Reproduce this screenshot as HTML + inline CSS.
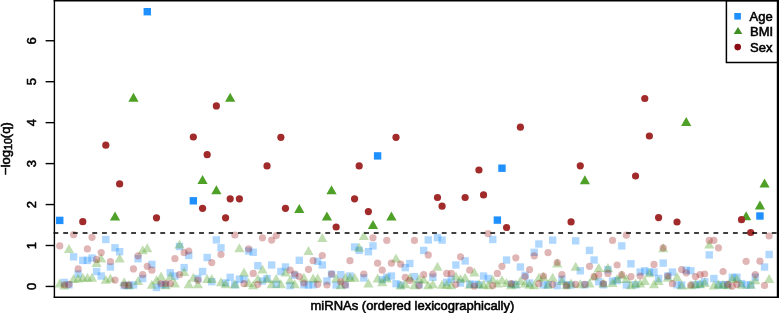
<!DOCTYPE html>
<html><head><meta charset="utf-8"><style>
html,body{margin:0;padding:0;background:#fff;}
svg{display:block;}
text{font-family:"Liberation Sans",Arial,sans-serif;font-size:13px;fill:#000;stroke:#000;stroke-width:0.55px;}
.fa{fill:#1e90ff;fill-opacity:.35}
.fb{fill:#4ea026;fill-opacity:.35}
.fs{fill:#a52a2a;fill-opacity:.35}
.a{fill:#1e90ff}
.b{fill:#4ea026}
.s{fill:#a12a2a}
</style></head><body>
<svg width="779" height="313" viewBox="0 0 779 313">
<g><rect class="fa" x="102.11" y="235.80" width="7.4" height="7.4"/><rect class="fa" x="111.33" y="244.10" width="7.4" height="7.4"/><rect class="fa" x="115.93" y="248.00" width="7.4" height="7.4"/><rect class="fa" x="69.87" y="253.10" width="7.4" height="7.4"/><rect class="fa" x="79.08" y="256.70" width="7.4" height="7.4"/><rect class="fa" x="83.69" y="256.70" width="7.4" height="7.4"/><rect class="fa" x="88.30" y="254.40" width="7.4" height="7.4"/><rect class="fa" x="134.36" y="255.00" width="7.4" height="7.4"/><rect class="fa" x="92.90" y="267.80" width="7.4" height="7.4"/><rect class="fa" x="97.51" y="272.30" width="7.4" height="7.4"/><rect class="fa" x="106.72" y="263.30" width="7.4" height="7.4"/><rect class="fa" x="74.48" y="270.30" width="7.4" height="7.4"/><rect class="fa" x="138.97" y="274.80" width="7.4" height="7.4"/><rect class="fa" x="129.75" y="281.30" width="7.4" height="7.4"/><rect class="fa" x="148.18" y="260.70" width="7.4" height="7.4"/><rect class="fa" x="60.66" y="278.70" width="7.4" height="7.4"/><rect class="fa" x="120.54" y="281.80" width="7.4" height="7.4"/><rect class="fa" x="125.15" y="281.80" width="7.4" height="7.4"/><rect class="fa" x="175.82" y="242.80" width="7.4" height="7.4"/><rect class="fa" x="185.03" y="251.80" width="7.4" height="7.4"/><rect class="fa" x="212.67" y="236.20" width="7.4" height="7.4"/><rect class="fa" x="217.28" y="244.10" width="7.4" height="7.4"/><rect class="fa" x="203.46" y="253.80" width="7.4" height="7.4"/><rect class="fa" x="244.92" y="247.30" width="7.4" height="7.4"/><rect class="fa" x="249.52" y="248.60" width="7.4" height="7.4"/><rect class="fa" x="180.43" y="263.90" width="7.4" height="7.4"/><rect class="fa" x="166.61" y="269.10" width="7.4" height="7.4"/><rect class="fa" x="171.21" y="272.30" width="7.4" height="7.4"/><rect class="fa" x="198.85" y="267.80" width="7.4" height="7.4"/><rect class="fa" x="194.25" y="274.80" width="7.4" height="7.4"/><rect class="fa" x="208.06" y="278.00" width="7.4" height="7.4"/><rect class="fa" x="226.49" y="273.60" width="7.4" height="7.4"/><rect class="fa" x="235.70" y="275.50" width="7.4" height="7.4"/><rect class="fa" x="240.31" y="275.50" width="7.4" height="7.4"/><rect class="fa" x="221.88" y="279.30" width="7.4" height="7.4"/><rect class="fa" x="152.79" y="283.80" width="7.4" height="7.4"/><rect class="fa" x="295.59" y="256.60" width="7.4" height="7.4"/><rect class="fa" x="314.01" y="257.60" width="7.4" height="7.4"/><rect class="fa" x="350.87" y="243.30" width="7.4" height="7.4"/><rect class="fa" x="267.95" y="261.30" width="7.4" height="7.4"/><rect class="fa" x="254.13" y="262.00" width="7.4" height="7.4"/><rect class="fa" x="281.77" y="263.30" width="7.4" height="7.4"/><rect class="fa" x="318.62" y="261.30" width="7.4" height="7.4"/><rect class="fa" x="277.16" y="267.80" width="7.4" height="7.4"/><rect class="fa" x="263.34" y="274.80" width="7.4" height="7.4"/><rect class="fa" x="258.74" y="277.30" width="7.4" height="7.4"/><rect class="fa" x="272.56" y="280.60" width="7.4" height="7.4"/><rect class="fa" x="286.38" y="281.90" width="7.4" height="7.4"/><rect class="fa" x="304.80" y="281.30" width="7.4" height="7.4"/><rect class="fa" x="323.23" y="277.30" width="7.4" height="7.4"/><rect class="fa" x="332.44" y="281.30" width="7.4" height="7.4"/><rect class="fa" x="337.05" y="271.00" width="7.4" height="7.4"/><rect class="fa" x="346.26" y="272.30" width="7.4" height="7.4"/><rect class="fa" x="369.29" y="242.20" width="7.4" height="7.4"/><rect class="fa" x="364.69" y="248.00" width="7.4" height="7.4"/><rect class="fa" x="355.47" y="246.70" width="7.4" height="7.4"/><rect class="fa" x="424.57" y="236.20" width="7.4" height="7.4"/><rect class="fa" x="433.78" y="233.90" width="7.4" height="7.4"/><rect class="fa" x="438.39" y="236.40" width="7.4" height="7.4"/><rect class="fa" x="419.96" y="246.70" width="7.4" height="7.4"/><rect class="fa" x="406.14" y="259.80" width="7.4" height="7.4"/><rect class="fa" x="401.54" y="263.90" width="7.4" height="7.4"/><rect class="fa" x="360.08" y="274.20" width="7.4" height="7.4"/><rect class="fa" x="387.72" y="272.30" width="7.4" height="7.4"/><rect class="fa" x="383.11" y="273.60" width="7.4" height="7.4"/><rect class="fa" x="378.50" y="276.10" width="7.4" height="7.4"/><rect class="fa" x="392.32" y="280.00" width="7.4" height="7.4"/><rect class="fa" x="396.93" y="281.30" width="7.4" height="7.4"/><rect class="fa" x="410.75" y="272.90" width="7.4" height="7.4"/><rect class="fa" x="429.18" y="273.60" width="7.4" height="7.4"/><rect class="fa" x="443.00" y="278.70" width="7.4" height="7.4"/><rect class="fa" x="447.60" y="275.50" width="7.4" height="7.4"/><rect class="fa" x="489.06" y="235.80" width="7.4" height="7.4"/><rect class="fa" x="535.13" y="240.30" width="7.4" height="7.4"/><rect class="fa" x="548.95" y="236.40" width="7.4" height="7.4"/><rect class="fa" x="530.52" y="248.60" width="7.4" height="7.4"/><rect class="fa" x="461.42" y="257.20" width="7.4" height="7.4"/><rect class="fa" x="502.88" y="256.30" width="7.4" height="7.4"/><rect class="fa" x="452.21" y="261.30" width="7.4" height="7.4"/><rect class="fa" x="516.70" y="263.30" width="7.4" height="7.4"/><rect class="fa" x="479.85" y="272.30" width="7.4" height="7.4"/><rect class="fa" x="484.45" y="274.80" width="7.4" height="7.4"/><rect class="fa" x="521.31" y="271.60" width="7.4" height="7.4"/><rect class="fa" x="456.82" y="279.30" width="7.4" height="7.4"/><rect class="fa" x="466.03" y="280.60" width="7.4" height="7.4"/><rect class="fa" x="470.63" y="280.60" width="7.4" height="7.4"/><rect class="fa" x="507.49" y="280.60" width="7.4" height="7.4"/><rect class="fa" x="539.73" y="281.30" width="7.4" height="7.4"/><rect class="fa" x="525.91" y="279.30" width="7.4" height="7.4"/><rect class="fa" x="571.98" y="237.10" width="7.4" height="7.4"/><rect class="fa" x="585.80" y="246.70" width="7.4" height="7.4"/><rect class="fa" x="618.04" y="242.20" width="7.4" height="7.4"/><rect class="fa" x="590.40" y="256.30" width="7.4" height="7.4"/><rect class="fa" x="627.26" y="260.10" width="7.4" height="7.4"/><rect class="fa" x="576.58" y="267.10" width="7.4" height="7.4"/><rect class="fa" x="604.22" y="265.90" width="7.4" height="7.4"/><rect class="fa" x="636.47" y="268.40" width="7.4" height="7.4"/><rect class="fa" x="641.08" y="267.10" width="7.4" height="7.4"/><rect class="fa" x="645.68" y="268.40" width="7.4" height="7.4"/><rect class="fa" x="558.16" y="275.50" width="7.4" height="7.4"/><rect class="fa" x="553.55" y="281.90" width="7.4" height="7.4"/><rect class="fa" x="595.01" y="278.00" width="7.4" height="7.4"/><rect class="fa" x="608.83" y="277.40" width="7.4" height="7.4"/><rect class="fa" x="613.44" y="276.80" width="7.4" height="7.4"/><rect class="fa" x="622.65" y="281.30" width="7.4" height="7.4"/><rect class="fa" x="567.37" y="281.30" width="7.4" height="7.4"/><rect class="fa" x="705.57" y="251.20" width="7.4" height="7.4"/><rect class="fa" x="659.50" y="259.40" width="7.4" height="7.4"/><rect class="fa" x="650.29" y="268.40" width="7.4" height="7.4"/><rect class="fa" x="668.71" y="268.40" width="7.4" height="7.4"/><rect class="fa" x="687.14" y="267.10" width="7.4" height="7.4"/><rect class="fa" x="682.53" y="266.50" width="7.4" height="7.4"/><rect class="fa" x="710.17" y="274.80" width="7.4" height="7.4"/><rect class="fa" x="654.89" y="274.80" width="7.4" height="7.4"/><rect class="fa" x="728.60" y="273.60" width="7.4" height="7.4"/><rect class="fa" x="677.93" y="281.30" width="7.4" height="7.4"/><rect class="fa" x="696.35" y="280.60" width="7.4" height="7.4"/><rect class="fa" x="700.96" y="278.00" width="7.4" height="7.4"/><rect class="fa" x="714.78" y="281.30" width="7.4" height="7.4"/><rect class="fa" x="742.42" y="281.30" width="7.4" height="7.4"/><rect class="fa" x="747.02" y="281.30" width="7.4" height="7.4"/><rect class="fa" x="765.45" y="250.80" width="7.4" height="7.4"/><rect class="fa" x="760.84" y="263.30" width="7.4" height="7.4"/><rect class="fa" x="751.63" y="273.50" width="7.4" height="7.4"/><rect class="fa" x="733.21" y="273.50" width="7.4" height="7.4"/><rect class="fa" x="737.81" y="279.90" width="7.4" height="7.4"/><rect class="fa" x="290.98" y="271.50" width="7.4" height="7.4"/><rect class="fa" x="327.83" y="270.50" width="7.4" height="7.4"/><rect class="fa" x="664.11" y="272.30" width="7.4" height="7.4"/><rect class="fa" x="65.26" y="281.10" width="7.4" height="7.4"/><rect class="fa" x="157.39" y="281.10" width="7.4" height="7.4"/><rect class="fa" x="162.00" y="281.10" width="7.4" height="7.4"/><rect class="fa" x="231.10" y="281.10" width="7.4" height="7.4"/><rect class="fa" x="300.19" y="281.10" width="7.4" height="7.4"/><rect class="fa" x="309.41" y="281.10" width="7.4" height="7.4"/><rect class="fa" x="341.65" y="281.10" width="7.4" height="7.4"/><rect class="fa" x="415.36" y="281.10" width="7.4" height="7.4"/><rect class="fa" x="475.24" y="281.10" width="7.4" height="7.4"/><rect class="fa" x="512.09" y="281.10" width="7.4" height="7.4"/><rect class="fa" x="544.34" y="281.10" width="7.4" height="7.4"/><rect class="fa" x="562.76" y="281.10" width="7.4" height="7.4"/><rect class="fa" x="581.19" y="281.10" width="7.4" height="7.4"/><rect class="fa" x="599.62" y="281.10" width="7.4" height="7.4"/><rect class="fa" x="631.86" y="281.10" width="7.4" height="7.4"/><rect class="fa" x="673.32" y="281.10" width="7.4" height="7.4"/><rect class="fa" x="691.75" y="281.10" width="7.4" height="7.4"/><rect class="fa" x="719.39" y="281.10" width="7.4" height="7.4"/><rect class="fa" x="723.99" y="281.10" width="7.4" height="7.4"/><path class="fb" d="M68.96 244.00L74.06 253.00L63.86 253.00Z"/><path class="fb" d="M119.63 253.60L124.73 262.60L114.53 262.60Z"/><path class="fb" d="M101.21 253.60L106.31 262.60L96.11 262.60Z"/><path class="fb" d="M142.67 245.20L147.77 254.20L137.57 254.20Z"/><path class="fb" d="M147.27 243.30L152.37 252.30L142.17 252.30Z"/><path class="fb" d="M96.60 258.10L101.70 267.10L91.50 267.10Z"/><path class="fb" d="M59.75 278.50L64.85 287.50L54.65 287.50Z"/><path class="fb" d="M73.57 274.00L78.67 283.00L68.47 283.00Z"/><path class="fb" d="M78.18 273.50L83.28 282.50L73.08 282.50Z"/><path class="fb" d="M82.78 272.80L87.88 281.80L77.68 281.80Z"/><path class="fb" d="M87.39 272.80L92.49 281.80L82.29 281.80Z"/><path class="fb" d="M92.00 272.80L97.10 281.80L86.90 281.80Z"/><path class="fb" d="M105.81 274.70L110.91 283.70L100.72 283.70Z"/><path class="fb" d="M110.42 273.50L115.52 282.50L105.32 282.50Z"/><path class="fb" d="M138.06 276.00L143.16 285.00L132.96 285.00Z"/><path class="fb" d="M151.88 279.80L156.98 288.80L146.78 288.80Z"/><path class="fb" d="M124.24 277.20L129.34 286.20L119.14 286.20Z"/><path class="fb" d="M64.36 280.50L69.46 289.50L59.26 289.50Z"/><path class="fb" d="M179.52 239.50L184.62 248.50L174.42 248.50Z"/><path class="fb" d="M239.40 243.30L244.50 252.30L234.30 252.30Z"/><path class="fb" d="M161.09 271.50L166.19 280.50L155.99 280.50Z"/><path class="fb" d="M170.31 271.50L175.41 280.50L165.21 280.50Z"/><path class="fb" d="M184.13 267.00L189.23 276.00L179.03 276.00Z"/><path class="fb" d="M193.34 272.80L198.44 281.80L188.24 281.80Z"/><path class="fb" d="M188.73 279.20L193.83 288.20L183.63 288.20Z"/><path class="fb" d="M174.91 278.50L180.01 287.50L169.81 287.50Z"/><path class="fb" d="M197.94 279.20L203.04 288.20L192.84 288.20Z"/><path class="fb" d="M207.16 274.00L212.26 283.00L202.06 283.00Z"/><path class="fb" d="M211.76 274.00L216.86 283.00L206.66 283.00Z"/><path class="fb" d="M220.98 277.20L226.08 286.20L215.88 286.20Z"/><path class="fb" d="M225.58 279.20L230.68 288.20L220.48 288.20Z"/><path class="fb" d="M234.80 279.20L239.90 288.20L229.70 288.20Z"/><path class="fb" d="M244.01 267.60L249.11 276.60L238.91 276.60Z"/><path class="fb" d="M248.62 277.90L253.72 286.90L243.52 286.90Z"/><path class="fb" d="M156.49 275.30L161.59 284.30L151.39 284.30Z"/><path class="fb" d="M322.32 233.10L327.42 242.10L317.22 242.10Z"/><path class="fb" d="M308.50 245.90L313.60 254.90L303.40 254.90Z"/><path class="fb" d="M262.44 264.50L267.54 273.50L257.34 273.50Z"/><path class="fb" d="M285.47 267.60L290.57 276.60L280.37 276.60Z"/><path class="fb" d="M267.04 274.00L272.14 283.00L261.94 283.00Z"/><path class="fb" d="M276.26 274.00L281.36 283.00L271.16 283.00Z"/><path class="fb" d="M271.65 279.20L276.75 288.20L266.55 288.20Z"/><path class="fb" d="M280.86 279.20L285.96 288.20L275.76 288.20Z"/><path class="fb" d="M290.07 275.30L295.18 284.30L284.97 284.30Z"/><path class="fb" d="M294.68 279.20L299.78 288.20L289.58 288.20Z"/><path class="fb" d="M303.89 272.80L308.99 281.80L298.79 281.80Z"/><path class="fb" d="M313.11 273.40L318.21 282.40L308.01 282.40Z"/><path class="fb" d="M317.71 273.40L322.81 282.40L312.61 282.40Z"/><path class="fb" d="M336.14 273.40L341.24 282.40L331.04 282.40Z"/><path class="fb" d="M345.35 272.80L350.45 281.80L340.25 281.80Z"/><path class="fb" d="M349.96 272.80L355.06 281.80L344.86 281.80Z"/><path class="fb" d="M257.83 274.00L262.93 283.00L252.73 283.00Z"/><path class="fb" d="M363.78 231.10L368.88 240.10L358.68 240.10Z"/><path class="fb" d="M359.17 242.70L364.27 251.70L354.07 251.70Z"/><path class="fb" d="M396.02 253.60L401.12 262.60L390.92 262.60Z"/><path class="fb" d="M354.57 272.80L359.67 281.80L349.47 281.80Z"/><path class="fb" d="M368.39 278.50L373.49 287.50L363.29 287.50Z"/><path class="fb" d="M377.60 273.40L382.70 282.40L372.50 282.40Z"/><path class="fb" d="M382.20 277.20L387.31 286.20L377.10 286.20Z"/><path class="fb" d="M386.81 273.40L391.91 282.40L381.71 282.40Z"/><path class="fb" d="M400.63 280.50L405.73 289.50L395.53 289.50Z"/><path class="fb" d="M405.24 279.20L410.34 288.20L400.14 288.20Z"/><path class="fb" d="M409.84 272.80L414.94 281.80L404.74 281.80Z"/><path class="fb" d="M419.06 274.00L424.16 283.00L413.96 283.00Z"/><path class="fb" d="M423.66 274.70L428.76 283.70L418.56 283.70Z"/><path class="fb" d="M432.88 279.20L437.98 288.20L427.78 288.20Z"/><path class="fb" d="M437.48 261.80L442.58 270.80L432.38 270.80Z"/><path class="fb" d="M442.09 279.80L447.19 288.80L436.99 288.80Z"/><path class="fb" d="M446.70 279.80L451.80 288.80L441.60 288.80Z"/><path class="fb" d="M474.33 267.60L479.44 276.60L469.23 276.60Z"/><path class="fb" d="M455.91 271.50L461.01 280.50L450.81 280.50Z"/><path class="fb" d="M460.52 274.00L465.62 283.00L455.42 283.00Z"/><path class="fb" d="M465.12 272.80L470.22 281.80L460.02 281.80Z"/><path class="fb" d="M469.73 279.80L474.83 288.80L464.63 288.80Z"/><path class="fb" d="M478.94 279.20L484.04 288.20L473.84 288.20Z"/><path class="fb" d="M483.55 279.80L488.65 288.80L478.45 288.80Z"/><path class="fb" d="M492.76 274.70L497.86 283.70L487.66 283.70Z"/><path class="fb" d="M497.37 278.50L502.47 287.50L492.27 287.50Z"/><path class="fb" d="M501.97 275.30L507.07 284.30L496.87 284.30Z"/><path class="fb" d="M506.58 277.90L511.68 286.90L501.48 286.90Z"/><path class="fb" d="M515.79 279.20L520.89 288.20L510.69 288.20Z"/><path class="fb" d="M520.40 276.00L525.50 285.00L515.30 285.00Z"/><path class="fb" d="M525.01 278.50L530.11 287.50L519.91 287.50Z"/><path class="fb" d="M529.61 279.80L534.71 288.80L524.51 288.80Z"/><path class="fb" d="M538.83 272.80L543.93 281.80L533.73 281.80Z"/><path class="fb" d="M548.04 279.80L553.14 288.80L542.94 288.80Z"/><path class="fb" d="M552.65 272.80L557.75 281.80L547.55 281.80Z"/><path class="fb" d="M557.25 258.50L562.35 267.50L552.15 267.50Z"/><path class="fb" d="M575.68 261.80L580.78 270.80L570.58 270.80Z"/><path class="fb" d="M598.71 263.10L603.81 272.10L593.61 272.10Z"/><path class="fb" d="M607.92 263.10L613.02 272.10L602.82 272.10Z"/><path class="fb" d="M561.86 276.00L566.96 285.00L556.76 285.00Z"/><path class="fb" d="M571.07 278.50L576.17 287.50L565.97 287.50Z"/><path class="fb" d="M580.28 279.20L585.38 288.20L575.18 288.20Z"/><path class="fb" d="M589.50 278.50L594.60 287.50L584.40 287.50Z"/><path class="fb" d="M612.53 277.90L617.63 286.90L607.43 286.90Z"/><path class="fb" d="M617.14 274.00L622.24 283.00L612.04 283.00Z"/><path class="fb" d="M621.74 270.20L626.84 279.20L616.64 279.20Z"/><path class="fb" d="M626.35 274.00L631.45 283.00L621.25 283.00Z"/><path class="fb" d="M635.56 278.50L640.66 287.50L630.46 287.50Z"/><path class="fb" d="M640.17 278.50L645.27 287.50L635.07 287.50Z"/><path class="fb" d="M644.78 276.00L649.88 285.00L639.68 285.00Z"/><path class="fb" d="M649.38 268.30L654.48 277.30L644.28 277.30Z"/><path class="fb" d="M653.99 279.20L659.09 288.20L648.89 288.20Z"/><path class="fb" d="M603.32 278.50L608.42 287.50L598.22 287.50Z"/><path class="fb" d="M663.20 243.30L668.30 252.30L658.10 252.30Z"/><path class="fb" d="M709.27 239.50L714.37 248.50L704.17 248.50Z"/><path class="fb" d="M658.59 276.00L663.69 285.00L653.49 285.00Z"/><path class="fb" d="M667.81 272.80L672.91 281.80L662.71 281.80Z"/><path class="fb" d="M677.02 272.10L682.12 281.10L671.92 281.10Z"/><path class="fb" d="M681.63 280.50L686.73 289.50L676.53 289.50Z"/><path class="fb" d="M695.45 279.20L700.55 288.20L690.35 288.20Z"/><path class="fb" d="M700.05 279.20L705.15 288.20L694.95 288.20Z"/><path class="fb" d="M704.66 277.90L709.76 286.90L699.56 286.90Z"/><path class="fb" d="M713.87 280.50L718.97 289.50L708.77 289.50Z"/><path class="fb" d="M718.48 279.20L723.58 288.20L713.38 288.20Z"/><path class="fb" d="M723.09 279.80L728.19 288.80L717.99 288.80Z"/><path class="fb" d="M732.30 273.40L737.40 282.40L727.20 282.40Z"/><path class="fb" d="M736.91 274.00L742.01 283.00L731.81 283.00Z"/><path class="fb" d="M741.51 279.80L746.61 288.80L736.41 288.80Z"/><path class="fb" d="M750.72 279.80L755.82 288.80L745.62 288.80Z"/><path class="fb" d="M769.15 274.00L774.25 283.00L764.05 283.00Z"/><path class="fb" d="M755.33 275.20L760.43 284.20L750.23 284.20Z"/><path class="fb" d="M543.43 272.00L548.53 281.00L538.33 281.00Z"/><path class="fb" d="M594.10 271.50L599.20 280.50L589.00 280.50Z"/><path class="fb" d="M128.85 280.30L133.95 289.30L123.75 289.30Z"/><path class="fb" d="M165.70 280.30L170.80 289.30L160.60 289.30Z"/><path class="fb" d="M253.22 280.30L258.32 289.30L248.12 289.30Z"/><path class="fb" d="M340.75 280.30L345.85 289.30L335.65 289.30Z"/><path class="fb" d="M414.45 280.30L419.55 289.30L409.35 289.30Z"/><path class="fb" d="M428.27 280.30L433.37 289.30L423.17 289.30Z"/><path class="fb" d="M451.30 280.30L456.40 289.30L446.20 289.30Z"/><path class="fb" d="M488.15 280.30L493.25 289.30L483.05 289.30Z"/><path class="fb" d="M511.19 280.30L516.29 289.30L506.09 289.30Z"/><path class="fb" d="M534.22 280.30L539.32 289.30L529.12 289.30Z"/><path class="fb" d="M566.46 280.30L571.56 289.30L561.36 289.30Z"/><path class="fb" d="M630.96 280.30L636.06 289.30L625.86 289.30Z"/><path class="fb" d="M690.84 280.30L695.94 289.30L685.74 289.30Z"/><path class="fb" d="M727.69 280.30L732.79 289.30L722.59 289.30Z"/><circle class="fs" cx="73.57" cy="234.70" r="3.6"/><circle class="fs" cx="92.00" cy="237.30" r="3.6"/><circle class="fs" cx="59.75" cy="245.90" r="3.6"/><circle class="fs" cx="87.39" cy="248.90" r="3.6"/><circle class="fs" cx="101.21" cy="252.60" r="3.6"/><circle class="fs" cx="110.42" cy="261.70" r="3.6"/><circle class="fs" cx="138.06" cy="255.80" r="3.6"/><circle class="fs" cx="96.60" cy="259.40" r="3.6"/><circle class="fs" cx="78.18" cy="268.90" r="3.6"/><circle class="fs" cx="133.45" cy="268.90" r="3.6"/><circle class="fs" cx="147.27" cy="266.30" r="3.6"/><circle class="fs" cx="151.88" cy="270.20" r="3.6"/><circle class="fs" cx="142.67" cy="274.70" r="3.6"/><circle class="fs" cx="115.03" cy="280.10" r="3.6"/><circle class="fs" cx="64.36" cy="285.00" r="3.6"/><circle class="fs" cx="68.96" cy="284.30" r="3.6"/><circle class="fs" cx="124.24" cy="285.20" r="3.6"/><circle class="fs" cx="128.85" cy="285.20" r="3.6"/><circle class="fs" cx="234.80" cy="235.00" r="3.6"/><circle class="fs" cx="174.91" cy="258.70" r="3.6"/><circle class="fs" cx="184.13" cy="252.70" r="3.6"/><circle class="fs" cx="188.73" cy="251.00" r="3.6"/><circle class="fs" cx="220.98" cy="254.50" r="3.6"/><circle class="fs" cx="211.76" cy="262.60" r="3.6"/><circle class="fs" cx="248.62" cy="248.80" r="3.6"/><circle class="fs" cx="179.52" cy="274.70" r="3.6"/><circle class="fs" cx="197.94" cy="280.10" r="3.6"/><circle class="fs" cx="161.09" cy="283.50" r="3.6"/><circle class="fs" cx="165.70" cy="283.50" r="3.6"/><circle class="fs" cx="170.31" cy="283.50" r="3.6"/><circle class="fs" cx="244.01" cy="283.70" r="3.6"/><circle class="fs" cx="253.22" cy="273.40" r="3.6"/><circle class="fs" cx="262.44" cy="237.80" r="3.6"/><circle class="fs" cx="271.65" cy="240.10" r="3.6"/><circle class="fs" cx="276.26" cy="235.60" r="3.6"/><circle class="fs" cx="322.32" cy="255.50" r="3.6"/><circle class="fs" cx="313.11" cy="260.70" r="3.6"/><circle class="fs" cx="349.96" cy="260.70" r="3.6"/><circle class="fs" cx="308.50" cy="269.30" r="3.6"/><circle class="fs" cx="290.07" cy="270.20" r="3.6"/><circle class="fs" cx="294.68" cy="274.00" r="3.6"/><circle class="fs" cx="299.29" cy="276.60" r="3.6"/><circle class="fs" cx="331.53" cy="274.00" r="3.6"/><circle class="fs" cx="257.83" cy="284.30" r="3.6"/><circle class="fs" cx="303.89" cy="283.00" r="3.6"/><circle class="fs" cx="317.71" cy="284.30" r="3.6"/><circle class="fs" cx="326.93" cy="285.00" r="3.6"/><circle class="fs" cx="340.75" cy="281.70" r="3.6"/><circle class="fs" cx="345.35" cy="285.00" r="3.6"/><circle class="fs" cx="372.99" cy="237.80" r="3.6"/><circle class="fs" cx="386.81" cy="240.40" r="3.6"/><circle class="fs" cx="414.45" cy="240.40" r="3.6"/><circle class="fs" cx="428.27" cy="254.90" r="3.6"/><circle class="fs" cx="377.60" cy="263.20" r="3.6"/><circle class="fs" cx="391.42" cy="263.20" r="3.6"/><circle class="fs" cx="400.63" cy="264.20" r="3.6"/><circle class="fs" cx="382.20" cy="270.20" r="3.6"/><circle class="fs" cx="363.78" cy="274.00" r="3.6"/><circle class="fs" cx="405.24" cy="277.30" r="3.6"/><circle class="fs" cx="409.84" cy="280.50" r="3.6"/><circle class="fs" cx="423.66" cy="274.70" r="3.6"/><circle class="fs" cx="432.88" cy="274.00" r="3.6"/><circle class="fs" cx="446.70" cy="273.40" r="3.6"/><circle class="fs" cx="451.30" cy="273.40" r="3.6"/><circle class="fs" cx="419.06" cy="285.60" r="3.6"/><circle class="fs" cx="488.15" cy="233.70" r="3.6"/><circle class="fs" cx="460.52" cy="256.80" r="3.6"/><circle class="fs" cx="515.79" cy="257.80" r="3.6"/><circle class="fs" cx="534.22" cy="255.80" r="3.6"/><circle class="fs" cx="548.04" cy="252.70" r="3.6"/><circle class="fs" cx="469.73" cy="270.20" r="3.6"/><circle class="fs" cx="501.97" cy="266.30" r="3.6"/><circle class="fs" cx="497.37" cy="273.40" r="3.6"/><circle class="fs" cx="529.61" cy="269.60" r="3.6"/><circle class="fs" cx="525.01" cy="276.60" r="3.6"/><circle class="fs" cx="543.43" cy="276.00" r="3.6"/><circle class="fs" cx="455.91" cy="284.30" r="3.6"/><circle class="fs" cx="474.33" cy="286.20" r="3.6"/><circle class="fs" cx="492.76" cy="285.60" r="3.6"/><circle class="fs" cx="511.19" cy="283.70" r="3.6"/><circle class="fs" cx="538.83" cy="283.70" r="3.6"/><circle class="fs" cx="552.65" cy="284.30" r="3.6"/><circle class="fs" cx="626.35" cy="235.20" r="3.6"/><circle class="fs" cx="612.53" cy="240.40" r="3.6"/><circle class="fs" cx="557.25" cy="262.50" r="3.6"/><circle class="fs" cx="617.14" cy="265.00" r="3.6"/><circle class="fs" cx="653.99" cy="264.40" r="3.6"/><circle class="fs" cx="589.50" cy="266.30" r="3.6"/><circle class="fs" cx="561.86" cy="274.70" r="3.6"/><circle class="fs" cx="594.10" cy="276.60" r="3.6"/><circle class="fs" cx="598.71" cy="274.70" r="3.6"/><circle class="fs" cx="607.92" cy="273.40" r="3.6"/><circle class="fs" cx="621.74" cy="274.70" r="3.6"/><circle class="fs" cx="630.96" cy="276.60" r="3.6"/><circle class="fs" cx="640.17" cy="276.00" r="3.6"/><circle class="fs" cx="566.46" cy="285.60" r="3.6"/><circle class="fs" cx="575.68" cy="284.30" r="3.6"/><circle class="fs" cx="584.89" cy="284.30" r="3.6"/><circle class="fs" cx="603.32" cy="283.70" r="3.6"/><circle class="fs" cx="663.20" cy="247.80" r="3.6"/><circle class="fs" cx="709.27" cy="240.40" r="3.6"/><circle class="fs" cx="713.87" cy="240.40" r="3.6"/><circle class="fs" cx="718.48" cy="247.80" r="3.6"/><circle class="fs" cx="746.12" cy="261.30" r="3.6"/><circle class="fs" cx="681.63" cy="269.60" r="3.6"/><circle class="fs" cx="686.23" cy="272.80" r="3.6"/><circle class="fs" cx="695.45" cy="276.60" r="3.6"/><circle class="fs" cx="700.05" cy="274.70" r="3.6"/><circle class="fs" cx="704.66" cy="274.00" r="3.6"/><circle class="fs" cx="723.09" cy="271.50" r="3.6"/><circle class="fs" cx="667.81" cy="276.00" r="3.6"/><circle class="fs" cx="672.41" cy="283.70" r="3.6"/><circle class="fs" cx="690.84" cy="285.00" r="3.6"/><circle class="fs" cx="727.69" cy="284.30" r="3.6"/><circle class="fs" cx="732.30" cy="286.20" r="3.6"/><circle class="fs" cx="736.91" cy="284.30" r="3.6"/><circle class="fs" cx="769.15" cy="236.00" r="3.6"/><circle class="fs" cx="759.94" cy="261.20" r="3.6"/><circle class="fs" cx="755.33" cy="274.60" r="3.6"/><circle class="fs" cx="764.54" cy="285.50" r="3.6"/></g>
<g><rect class="a" x="56.05" y="216.70" width="7.4" height="7.4"/><rect class="a" x="143.57" y="8.00" width="7.4" height="7.4"/><rect class="a" x="189.64" y="197.10" width="7.4" height="7.4"/><rect class="a" x="373.90" y="152.20" width="7.4" height="7.4"/><rect class="a" x="498.27" y="164.50" width="7.4" height="7.4"/><rect class="a" x="493.67" y="216.40" width="7.4" height="7.4"/><rect class="a" x="756.24" y="212.30" width="7.4" height="7.4"/><path class="b" d="M133.45 92.70L138.55 101.70L128.35 101.70Z"/><path class="b" d="M115.03 211.50L120.13 220.50L109.93 220.50Z"/><path class="b" d="M202.55 175.00L207.65 184.00L197.45 184.00Z"/><path class="b" d="M216.37 185.30L221.47 194.30L211.27 194.30Z"/><path class="b" d="M230.19 92.70L235.29 101.70L225.09 101.70Z"/><path class="b" d="M299.29 204.00L304.39 213.00L294.19 213.00Z"/><path class="b" d="M331.53 185.30L336.63 194.30L326.43 194.30Z"/><path class="b" d="M326.93 211.50L332.03 220.50L321.83 220.50Z"/><path class="b" d="M372.99 220.00L378.09 229.00L367.89 229.00Z"/><path class="b" d="M391.42 211.50L396.52 220.50L386.32 220.50Z"/><path class="b" d="M584.89 175.30L589.99 184.30L579.79 184.30Z"/><path class="b" d="M686.23 117.00L691.33 126.00L681.13 126.00Z"/><path class="b" d="M746.12 211.20L751.22 220.20L741.02 220.20Z"/><path class="b" d="M759.94 200.40L765.04 209.40L754.84 209.40Z"/><path class="b" d="M764.54 178.50L769.64 187.50L759.44 187.50Z"/><circle class="s" cx="82.78" cy="221.70" r="3.6"/><circle class="s" cx="105.81" cy="145.20" r="3.6"/><circle class="s" cx="119.63" cy="183.90" r="3.6"/><circle class="s" cx="156.49" cy="217.80" r="3.6"/><circle class="s" cx="193.34" cy="137.00" r="3.6"/><circle class="s" cx="202.55" cy="208.30" r="3.6"/><circle class="s" cx="207.16" cy="154.70" r="3.6"/><circle class="s" cx="216.37" cy="105.90" r="3.6"/><circle class="s" cx="225.58" cy="217.80" r="3.6"/><circle class="s" cx="230.19" cy="198.80" r="3.6"/><circle class="s" cx="239.40" cy="198.80" r="3.6"/><circle class="s" cx="267.04" cy="165.90" r="3.6"/><circle class="s" cx="280.86" cy="137.30" r="3.6"/><circle class="s" cx="285.47" cy="208.30" r="3.6"/><circle class="s" cx="336.14" cy="227.00" r="3.6"/><circle class="s" cx="354.57" cy="198.80" r="3.6"/><circle class="s" cx="359.17" cy="165.90" r="3.6"/><circle class="s" cx="368.39" cy="211.60" r="3.6"/><circle class="s" cx="396.02" cy="137.30" r="3.6"/><circle class="s" cx="437.48" cy="197.50" r="3.6"/><circle class="s" cx="442.09" cy="206.20" r="3.6"/><circle class="s" cx="465.12" cy="197.50" r="3.6"/><circle class="s" cx="478.94" cy="170.00" r="3.6"/><circle class="s" cx="483.55" cy="194.90" r="3.6"/><circle class="s" cx="506.58" cy="227.50" r="3.6"/><circle class="s" cx="520.40" cy="127.20" r="3.6"/><circle class="s" cx="571.07" cy="221.90" r="3.6"/><circle class="s" cx="580.28" cy="165.80" r="3.6"/><circle class="s" cx="635.56" cy="176.00" r="3.6"/><circle class="s" cx="644.78" cy="98.50" r="3.6"/><circle class="s" cx="649.38" cy="136.00" r="3.6"/><circle class="s" cx="658.59" cy="217.60" r="3.6"/><circle class="s" cx="677.02" cy="222.00" r="3.6"/><circle class="s" cx="741.51" cy="219.70" r="3.6"/><circle class="s" cx="750.72" cy="232.50" r="3.6"/></g>
<line x1="53.5" y1="233.05" x2="777.3" y2="233.05" stroke="#000" stroke-width="1.4" stroke-dasharray="4.853 4.853"/>
<g stroke="#000"><line x1="53.7" y1="0.6" x2="779" y2="0.6" stroke-width="1.7"/><line x1="53.7" y1="297.2" x2="779" y2="297.2" stroke-width="1.5"/><line x1="54.4" y1="0" x2="54.4" y2="297.95" stroke-width="1.4"/><line x1="777.9" y1="0" x2="777.9" y2="297.95" stroke-width="2.2"/></g>
<g stroke="#000" stroke-width="1.4"><line x1="45.6" y1="286.45" x2="54.2" y2="286.45"/><line x1="45.6" y1="245.50" x2="54.2" y2="245.50"/><line x1="45.6" y1="204.55" x2="54.2" y2="204.55"/><line x1="45.6" y1="163.60" x2="54.2" y2="163.60"/><line x1="45.6" y1="122.65" x2="54.2" y2="122.65"/><line x1="45.6" y1="81.70" x2="54.2" y2="81.70"/><line x1="45.6" y1="40.75" x2="54.2" y2="40.75"/></g>
<g><text x="35.6" y="286.45" transform="rotate(-90 35.6 286.45)" text-anchor="middle">0</text><text x="35.6" y="245.50" transform="rotate(-90 35.6 245.50)" text-anchor="middle">1</text><text x="35.6" y="204.55" transform="rotate(-90 35.6 204.55)" text-anchor="middle">2</text><text x="35.6" y="163.60" transform="rotate(-90 35.6 163.60)" text-anchor="middle">3</text><text x="35.6" y="122.65" transform="rotate(-90 35.6 122.65)" text-anchor="middle">4</text><text x="35.6" y="81.70" transform="rotate(-90 35.6 81.70)" text-anchor="middle">5</text><text x="35.6" y="40.75" transform="rotate(-90 35.6 40.75)" text-anchor="middle">6</text></g>
<text x="10.2" y="148.6" transform="rotate(-90 10.2 148.6)" text-anchor="middle">&#8722;log<tspan font-size="10.7px" dy="1.6">10</tspan><tspan dy="-1.6">(q)</tspan></text>
<text x="412.4" y="310.2" text-anchor="middle">miRNAs (ordered lexicographically)</text>
<rect x="726.4" y="0.6" width="51.5" height="61.9" fill="none" stroke="#000" stroke-width="1.5"/>
<rect x="734.3" y="13.0" width="6.6" height="6.6" fill="#1e90ff"/>
<path d="M738 26.9L742.3 33.9L733.7 33.9Z" fill="#3f8f25"/>
<circle cx="737.7" cy="47.1" r="3.3" fill="#8b0a14"/>
<text x="749.5" y="20.7">Age</text>
<text x="750" y="36.2">BMI</text>
<text x="750" y="51.8">Sex</text>
</svg>
</body></html>
